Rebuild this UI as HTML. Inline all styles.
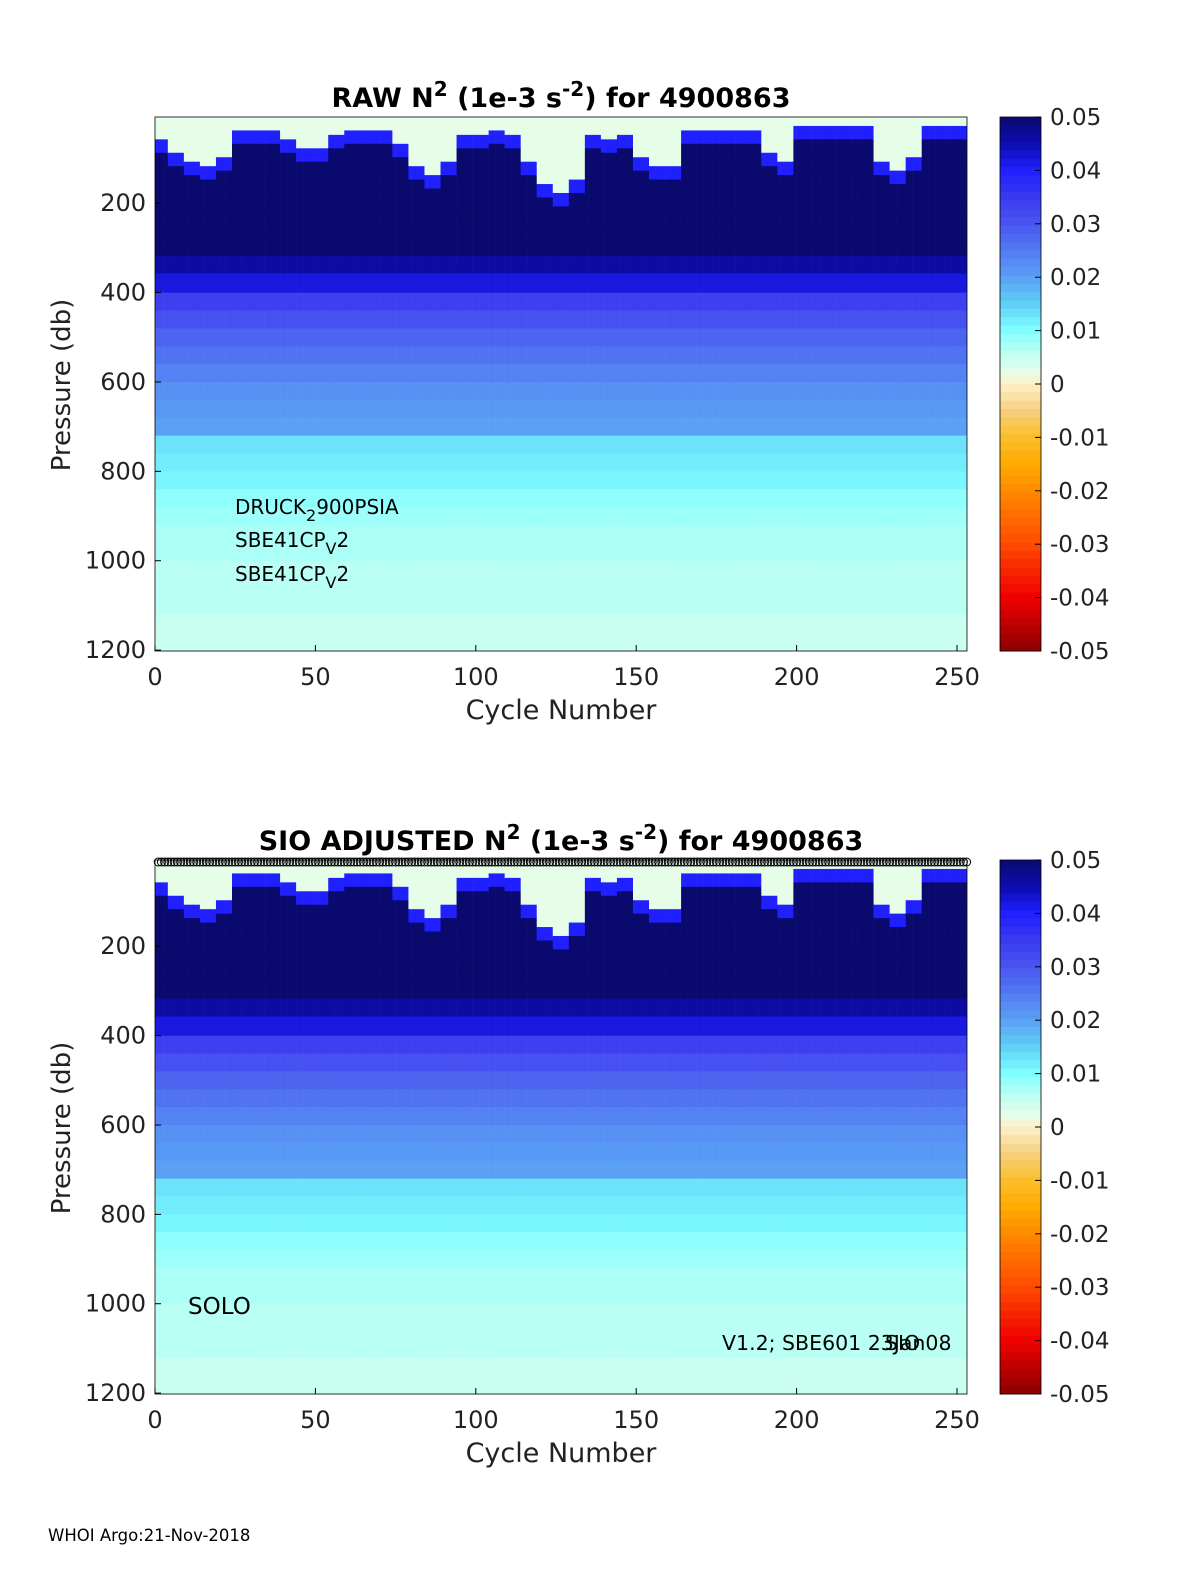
<!DOCTYPE html>
<html><head><meta charset="utf-8">
<style>
html,body{margin:0;padding:0;background:#fff;}
svg{display:block;font-family:"DejaVu Sans","Liberation Sans",sans-serif;}
</style></head>
<body>
<svg id="fig" width="1200" height="1575" viewBox="0 0 1200 1575"></svg>
<script>
// ---- data ----
const cycleCount = 253;
// mixed-layer depth (db) per 5-cycle group
const mixedLayerDepth = [60,90,110,115,100,40,35,40,60,80,80,50,35,40,35,70,120,135,110,50,45,40,45,110,160,175,150,50,55,50,100,120,115,40,35,40,40,35,90,105,30,25,25,30,30,110,125,100,30,25,25];
// N2 profile (1e-3 s^-2) per 40 db bin, centers 20..1180
const profileValues = [0.05,0.05,0.05,0.05,0.05,0.05,0.05,0.05,0.046,0.042,0.034,0.031,0.028,0.026,0.024,0.022,0.021,0.02,0.013,0.012,0.011,0.009,0.008,0.007,0.007,0.006,0.006,0.006,0.005,0.005];
const mixedValue = 0.002;
const transitionValue = 0.04;
const yTicks = [200,400,600,800,1000,1200];
const xTicks = [0,50,100,150,200,250];
const cbTicks = [0.05,0.04,0.03,0.02,0.01,0,-0.01,-0.02,-0.03,-0.04,-0.05];
const cbLabels = ["0.05","0.04","0.03","0.02","0.01","0","-0.01","-0.02","-0.03","-0.04","-0.05"];

const NS = "http://www.w3.org/2000/svg";
const svg = document.getElementById('fig');
function mk(tag, attrs, parent){const e=document.createElementNS(NS,tag);for(const k in attrs)e.setAttribute(k,attrs[k]);(parent||svg).appendChild(e);return e;}

const stops = [[-0.05,[138,0,0]],[-0.04,[240,0,0]],[-0.03,[255,74,0]],[-0.02,[255,138,0]],[-0.015,[255,170,0]],[-0.01,[251,191,42]],[-0.005,[245,208,128]],[0,[255,240,200]],[0.002,[230,253,232]],[0.005,[200,255,240]],[0.01,[128,255,255]],[0.015,[96,208,248]],[0.02,[90,160,245]],[0.03,[74,85,240]],[0.035,[58,58,240]],[0.04,[32,32,255]],[0.045,[12,12,176]],[0.05,[10,10,110]]];
function cmap(v){
  v=Math.max(-0.05,Math.min(0.05,v));
  for(let i=1;i<stops.length;i++){
    if(v<=stops[i][0]){const a=stops[i-1],b=stops[i];const t=(v-a[0])/(b[0]-a[0]);
      const c=a[1].map((x,j)=>Math.round(x+(b[1][j]-x)*t));return `rgb(${c[0]},${c[1]},${c[2]})`;}
  }
  return 'rgb(10,10,110)';
}

function valueAt(c,p){
  const mld = mixedLayerDepth[Math.min(mixedLayerDepth.length-1,Math.floor(c/5))];
  if(p<mld) return mixedValue;
  if(p<mld+30) return transitionValue;
  return profileValues[Math.min(profileValues.length-1,Math.floor(p/40))];
}

function panel(off, title, parts){
  const L=155,R=967,T=117+off,B=651+off;
  const P0=7,P1=1202;
  const xs=c=>L+c*3.208;
  const ys=p=>T+(p-P0)/(P1-P0)*(B-T);
  const g=mk('g',{});
  
  
  const edges=[];
  for(let p=P0;p<400;p+=10) edges.push(p);
  for(let p=400;p<=1200;p+=40) edges.push(p);
  edges.push(P1);
  for(let c=1;c<=cycleCount;c++){
    for(let k=0;k<edges.length-1;k++){
      const p0=edges[k],p1=edges[k+1];
      const r=mk('rect',{x:xs(c-1).toFixed(2),y:ys(p0).toFixed(2),width:3.5,height:(ys(p1)-ys(p0)+0.6).toFixed(2),fill:cmap(valueAt(c,(p0+p1)/2))},g);
      
      
    }
  }
  const ax=mk('rect',{x:L,y:T,width:R-L,height:B-T,fill:'none',stroke:'#000','stroke-width':0.8});
  
  
  yTicks.forEach(t=>{
    mk('line',{x1:L,x2:L+6,y1:ys(t),y2:ys(t),stroke:'#000'});
    const tx=mk('text',{x:146,y:ys(t)+8,'text-anchor':'end','font-size':24,fill:'#222'});
    tx.textContent=t;
    
    
  });
  xTicks.forEach(t=>{
    mk('line',{x1:xs(t),x2:xs(t),y1:B,y2:B-6,stroke:'#000'});
    const tx=mk('text',{x:xs(t),y:B+34,'text-anchor':'middle','font-size':24,fill:'#222'});
    tx.textContent=t;
    
    
  });
  const xl=mk('text',{x:561,y:B+68,'text-anchor':'middle','font-size':27,fill:'#222'});
  xl.textContent='Cycle Number';
  
  
  const yl=mk('text',{x:0,y:0,'text-anchor':'middle','font-size':26,fill:'#222',transform:`translate(70,${T+268}) rotate(-90)`});
  yl.textContent='Pressure (db)';
  
  
  const tt=mk('text',{x:561,y:T-10,'text-anchor':'middle','font-size':27,'font-weight':'bold',fill:'#000'});
  tt.innerHTML=title;
  
  
  const cb=mk('g',{});
  
  
  const n=64,h=(B-T)/n;
  for(let i=0;i<n;i++){
    const v=0.05-(i+0.5)*0.1/n;
    mk('rect',{x:1000,y:T+i*h,width:41,height:h+0.5,fill:cmap(v)},cb);
  }
  mk('rect',{x:1000,y:T,width:41,height:B-T,fill:'none',stroke:'#000','stroke-width':0.8},cb);
  cbTicks.forEach((t,i)=>{
    const y=T+(0.05-t)/0.1*(B-T);
    mk('line',{x1:1035,x2:1041,y1:y,y2:y,stroke:'#000'},cb);
    const tx=mk('text',{x:1050,y:y+8,'font-size':23,fill:'#222'},cb);
    tx.textContent=cbLabels[i];
    
    
  });
  return {xs,ys,T,B};
}

const p1=panel(0,'RAW N<tspan dy="-11" font-size="20">2</tspan><tspan dy="11"> (1e-3 s</tspan><tspan dy="-11" font-size="20">-2</tspan><tspan dy="11">) for 4900863</tspan>',{name:'raw'});
[['DRUCK<tspan dy="7" font-size="16">2</tspan><tspan dy="-7">900PSIA</tspan>',514],['SBE41CP<tspan dy="7" font-size="16">V</tspan><tspan dy="-7">2</tspan>',547],['SBE41CP<tspan dy="7" font-size="16">V</tspan><tspan dy="-7">2</tspan>',581]].forEach(s=>{
  const t=mk('text',{x:235,y:s[1],'font-size':20,fill:'#000'});
  t.innerHTML=s[0];
  
  
});

const p2=panel(743,'SIO  ADJUSTED N<tspan dy="-11" font-size="20">2</tspan><tspan dy="11"> (1e-3 s</tspan><tspan dy="-11" font-size="20">-2</tspan><tspan dy="11">) for 4900863</tspan>',{name:'adjusted'});
const mg=mk('g',{});


for(let c=1;c<=cycleCount;c++){
  mk('circle',{cx:p2.xs(c),cy:862,r:4,fill:'none',stroke:'#000','stroke-width':1},mg);
}
const solo=mk('text',{x:188,y:1314,'font-size':23,fill:'#000'});
solo.textContent='SOLO';


const ver=mk('text',{x:722,y:1350,'font-size':20.5,fill:'#000'});
ver.textContent='V1.2; SBE601 23Jan08';


const sio=mk('text',{x:885,y:1350,'font-size':20.5,fill:'#000'});
sio.textContent='SIO';


const ft=mk('text',{x:48,y:1541,'font-size':16.5,fill:'#000'});
ft.textContent='WHOI Argo:21-Nov-2018';


</script>
</body></html>
